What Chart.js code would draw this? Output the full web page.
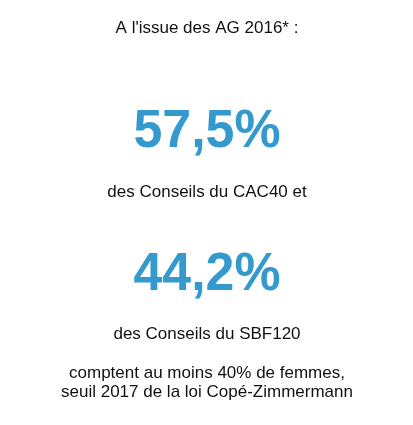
<!DOCTYPE html>
<html>
<head>
<meta charset="utf-8">
<script src="https://cdn.jsdelivr.net/npm/chart.js@4"></script>
<style>
  html, body { margin: 0; padding: 0; background: #fff; }
  #wrap { width: 413px; height: 425px; position: relative; }
</style>
</head>
<body>
<div id="wrap"><canvas id="chiffres"></canvas></div>
<script>
// Données
const introLine = "A l'issue des AG 2016* :";
const indices = ['CAC40', 'SBF120'];
const shares = [57.5, 44.2]; // % des conseils avec au moins 40% de femmes
const shareLabels = ['des Conseils du CAC40 et', 'des Conseils du SBF120'];
const footLines = ['comptent au moins 40% de femmes,', 'seuil 2017 de la loi Copé-Zimmermann'];

const FONT = '"Liberation Sans", Arial, Helvetica, sans-serif';
const BLUE = '#349acd';
const INK = '#111';

// chiffres clés dessinés en texte au centre du canvas
const bigNumbers = {
  id: 'bigNumbers',
  afterDraw(chart) {
    const ctx = chart.ctx;
    const cx = chart.width / 2 + 0.5;
    const vals = chart.data.datasets[0].data;
    ctx.save();
    ctx.textAlign = 'center';
    ctx.textBaseline = 'alphabetic';

    ctx.fillStyle = INK;
    ctx.font = '17px ' + FONT;
    ctx.fillText(introLine, cx, 33);

    const numY = [147, 290];
    const subY = [197, 339];
    vals.forEach((v, i) => {
      const txt = v.toLocaleString('fr-FR', { minimumFractionDigits: 1 }) + '%';
      ctx.fillStyle = BLUE;
      ctx.font = 'bold 54px ' + FONT;
      ctx.save();
      ctx.translate(cx, numY[i]);
      ctx.scale(0.96, 1.0);
      ctx.fillText(txt, 0, 0);
      ctx.restore();

      ctx.fillStyle = INK;
      ctx.font = '17px ' + FONT;
      ctx.fillText(shareLabels[i], cx, subY[i]);
    });

    ctx.font = '17px ' + FONT;
    ctx.fillText(footLines[0], cx, 378);
    ctx.fillText(footLines[1], cx, 397);
    ctx.restore();
  }
};

new Chart(document.getElementById('chiffres'), {
  type: 'bar',
  data: {
    labels: indices,
    datasets: [{
      data: shares,
      backgroundColor: 'rgba(0,0,0,0)',
      borderWidth: 0
    }]
  },
  options: {
    responsive: true,
    maintainAspectRatio: false,
    animation: false,
    events: [],
    layout: { padding: 0 },
    scales: {
      x: { display: false },
      y: { display: false, min: 0, max: 100 }
    },
    plugins: {
      legend: { display: false },
      tooltip: { enabled: false },
      title: { display: false }
    }
  },
  plugins: [bigNumbers]
});
</script>
</body>
</html>
